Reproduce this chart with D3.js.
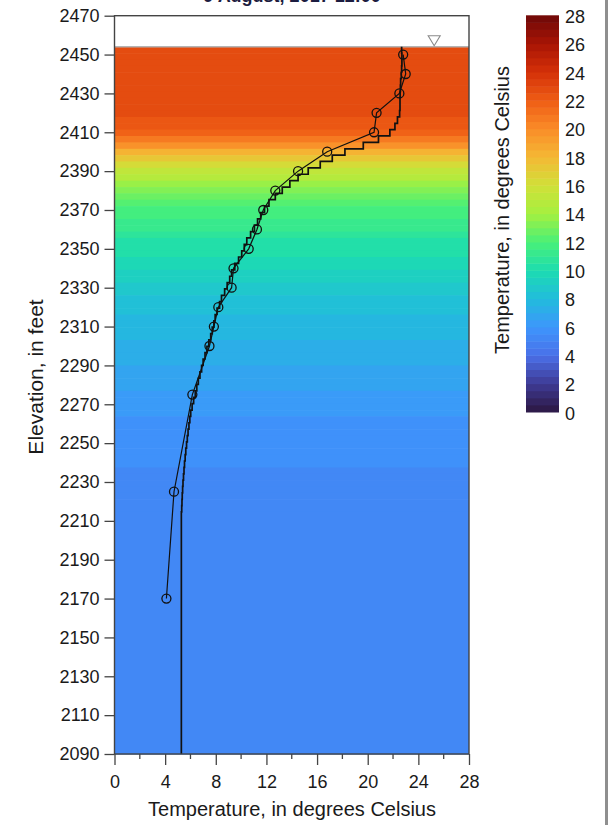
<!DOCTYPE html>
<html>
<meta charset="utf-8">
<script src="https://d3js.org/d3.v7.min.js"></script>
<style>
  body { margin: 0; background: #fff; }
  text { font-family: "Liberation Sans", Arial, sans-serif; fill: #1a1a1a; }
</style>
<div id="profile_div"></div>
<script>

// measured profile (circles)
var measTemp = [22.8, 23.0, 22.5, 20.7, 20.5, 16.8, 14.5, 12.7, 11.75, 11.25, 10.6, 9.4, 9.25, 8.2, 7.85, 7.5, 6.15, 4.7, 4.1];
var measElev = [2450, 2440, 2430, 2420, 2410, 2400, 2390, 2380, 2370, 2360, 2350, 2340, 2330, 2320, 2310, 2300, 2275, 2225, 2170];

// model layers: top elevation (ft) and temperature
var layerTop = [2454.0, 2450.7, 2447.4, 2444.2, 2440.9, 2437.6, 2434.3, 2431.0, 2427.8, 2424.5,
  2421.2, 2417.9, 2414.6, 2411.4, 2408.1, 2404.8, 2401.5, 2398.2, 2395.0, 2391.7,
  2388.4, 2385.1, 2381.8, 2378.6, 2375.3, 2372.0, 2368.7, 2365.4, 2362.2, 2358.9,
  2355.6, 2352.3, 2349.0, 2345.8, 2342.5, 2339.2, 2335.9, 2332.6, 2329.4, 2326.1,
  2322.8, 2319.5, 2316.2, 2313.0, 2309.7, 2306.4, 2303.1, 2299.8, 2296.6, 2293.3,
  2290.0, 2286.7, 2283.4, 2280.2, 2276.9, 2273.6, 2270.3, 2267.0, 2263.8, 2260.5,
  2257.2, 2253.9, 2250.6, 2247.4, 2244.1, 2240.8, 2237.5, 2234.2, 2231.0, 2227.7,
  2224.4, 2221.1, 2217.8, 2214.6];
var layerTemp = [22.68, 22.7, 22.7, 22.68, 22.65, 22.6, 22.58, 22.56, 22.55, 22.55,
  22.52, 22.35, 22.15, 21.75, 20.85, 19.65, 18.2, 17.2, 16.25, 15.3,
  14.5, 13.85, 13.25, 12.7, 12.2, 11.85, 11.55, 11.3, 11.05, 10.75,
  10.45, 10.25, 10.05, 9.8, 9.5, 9.25, 9.1, 8.9, 8.7, 8.45,
  8.3, 8.1, 7.95, 7.85, 7.72, 7.6, 7.45, 7.3, 7.15, 7.0,
  6.88, 6.75, 6.62, 6.5, 6.38, 6.25, 6.13, 6.02, 5.95, 5.88,
  5.81, 5.75, 5.69, 5.63, 5.58, 5.53, 5.49, 5.45, 5.41, 5.38,
  5.35, 5.33, 5.31, 5.28];
var bottomElev = 2090;
var surfaceElev = 2454;
var surfaceMarkTemp = 25.25;

var elevTicks = [2090, 2110, 2130, 2150, 2170, 2190, 2210, 2230, 2250, 2270, 2290, 2310, 2330, 2350, 2370, 2390, 2410, 2430, 2450, 2470];
var tempTicks = [0, 4, 8, 12, 16, 20, 24, 28];
var tempMinor = [2, 6, 10, 14, 18, 22, 26];
var cbTicks = [0, 2, 4, 6, 8, 10, 12, 14, 16, 18, 20, 22, 24, 26, 28];
var cbColors = ["#2c1640", "#3e3a94", "#4a70e8", "#3d96fc", "#22bcdc", "#1cdcb0", "#48f078", "#a4f040",
  "#d0e038", "#f4b834", "#fa8c28", "#ee5c14", "#d43008", "#a81404", "#6e0808"];

var svg = d3.select("#profile_div")
  .append("svg")
  .attr("width", 608)
  .attr("height", 825);

var x = d3.scaleLinear().domain([0, 28]).range([114.5, 469]);
var y = d3.scaleLinear().domain([2090, 2470]).range([754, 15.7]);

var color = d3.scaleLinear().domain(cbTicks).range(cbColors);
// colours come in half-degree steps
function binColor(t) { return color(Math.floor(t * 2) / 2 + 0.25); }

// background
svg.append("rect")
  .attr("x", x(0)).attr("y", y(2470))
  .attr("width", x(28) - x(0)).attr("height", y(2090) - y(2470))
  .attr("fill", "#fff");

svg.selectAll(".layer")
  .data(layerTop)
  .enter()
  .append("rect")
  .attr("class", "layer")
  .attr("x", x(0))
  .attr("width", x(28) - x(0))
  .attr("y", function(d) { return y(d); })
  .attr("height", function(d, i) {
    var b = i < layerTop.length - 1 ? layerTop[i + 1] : bottomElev;
    return y(b) - y(d) + 0.6;
  })
  .attr("fill", function(d, i) { return binColor(layerTemp[i]); });

// water surface
svg.append("line")
  .attr("x1", x(0)).attr("x2", x(28))
  .attr("y1", y(surfaceElev)).attr("y2", y(surfaceElev))
  .attr("stroke", "#b4b4b4").attr("stroke-width", 1.5);

var sx = x(surfaceMarkTemp), sy = y(surfaceElev) - 1;
svg.append("path")
  .attr("d", "M" + (sx - 6) + "," + (sy - 10) + "L" + (sx + 6) + "," + (sy - 10) + "L" + sx + "," + sy + "Z")
  .attr("fill", "none").attr("stroke", "#8a8a8a").attr("stroke-width", 1.1);

// model step profile
var stepPts = layerTop.map(function(e, i) { return [layerTemp[i], e]; });
stepPts.push([layerTemp[layerTemp.length - 1], bottomElev]);

svg.append("path")
  .datum(stepPts)
  .attr("fill", "none")
  .attr("stroke", "#111")
  .attr("stroke-width", 1.7)
  .attr("d", d3.line()
    .x(function(d) { return x(d[0]); })
    .y(function(d) { return y(d[1]); })
    .curve(d3.curveStepBefore));

// measured profile
var meas = measTemp.map(function(t, i) { return {t: t, e: measElev[i]}; });

svg.append("path")
  .datum(meas)
  .attr("fill", "none")
  .attr("stroke", "#111")
  .attr("stroke-width", 1.2)
  .attr("d", d3.line()
    .x(function(d) { return x(d.t); })
    .y(function(d) { return y(d.e); }));

svg.selectAll(".pt")
  .data(meas)
  .enter()
  .append("circle")
  .attr("class", "pt")
  .attr("cx", function(d) { return x(d.t); })
  .attr("cy", function(d) { return y(d.e); })
  .attr("r", 4.5)
  .attr("fill", "none")
  .attr("stroke", "#111")
  .attr("stroke-width", 1.3);

// axes
var yAx = svg.append("g")
  .attr("transform", "translate(" + x(0) + ",0)")
  .call(d3.axisLeft(y).tickValues(elevTicks).tickFormat(d3.format("d"))
    .tickSize(10).tickPadding(5).tickSizeOuter(0));

var xAx = svg.append("g")
  .attr("transform", "translate(0," + y(2090) + ")")
  .call(d3.axisBottom(x).tickValues(tempTicks).tickFormat(d3.format("d"))
    .tickSize(11).tickPadding(10).tickSizeOuter(0));

xAx.selectAll(".minor")
  .data(tempMinor)
  .enter()
  .append("line")
  .attr("x1", function(d) { return x(d); })
  .attr("x2", function(d) { return x(d); })
  .attr("y1", 0).attr("y2", 5)
  .attr("stroke", "#444").attr("stroke-width", 1.3);

[yAx, xAx].forEach(function(g) {
  g.select(".domain").remove();
  g.selectAll(".tick line").attr("stroke", "#444").attr("stroke-width", 1.3);
  g.selectAll(".tick text").style("font-size", "18px").attr("fill", "#1a1a1a");
});

svg.append("rect")
  .attr("x", x(0)).attr("y", y(2470))
  .attr("width", x(28) - x(0)).attr("height", y(2090) - y(2470))
  .attr("fill", "none").attr("stroke", "#444").attr("stroke-width", 1.4);

// colour bar
var cy = d3.scaleLinear().domain([0, 28]).range([412, 15.3]);
var cbBins = d3.range(0, 28, 0.5);
svg.selectAll(".cb")
  .data(cbBins)
  .enter()
  .append("rect")
  .attr("class", "cb")
  .attr("x", 526)
  .attr("width", 33)
  .attr("y", function(d) { return cy(d + 0.5); })
  .attr("height", function(d) { return cy(d) - cy(d + 0.5) + 0.5; })
  .attr("fill", function(d) { return color(d + 0.25); });

svg.selectAll(".cbl")
  .data(cbTicks)
  .enter()
  .append("text")
  .attr("class", "cbl")
  .attr("x", 565)
  .attr("y", function(d) { return cy(d) + 1.5; })
  .attr("dy", "0.35em")
  .style("font-size", "18px")
  .text(function(d) { return d; });

// titles
svg.append("text")
  .attr("x", 292).attr("y", 2)
  .attr("text-anchor", "middle")
  .style("font-size", "18px").style("font-weight", "bold")
  .style("fill", "#1c1c40")
  .text("9 August, 2017 12:00");

svg.append("text")
  .attr("x", 292).attr("y", 816)
  .attr("text-anchor", "middle")
  .style("font-size", "20px")
  .text("Temperature, in degrees Celsius");

svg.append("text")
  .attr("transform", "translate(43,377) rotate(-90)")
  .attr("text-anchor", "middle")
  .style("font-size", "21px")
  .text("Elevation, in feet");

svg.append("text")
  .attr("transform", "translate(509,210) rotate(-90)")
  .attr("text-anchor", "middle")
  .style("font-size", "20px")
  .text("Temperature, in degrees Celsius");

// window edge
svg.append("rect")
  .attr("x", 605).attr("y", 0).attr("width", 3).attr("height", 825)
  .attr("fill", "#8f8f8f");

</script>
</html>
